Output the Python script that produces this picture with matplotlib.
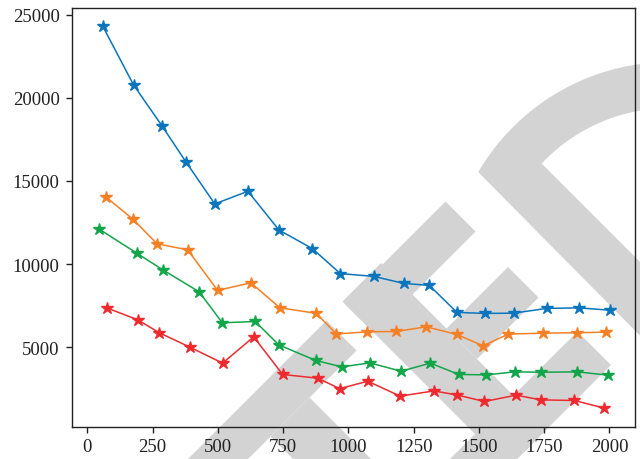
import matplotlib
matplotlib.use("Agg")
import matplotlib.pyplot as plt
import numpy as np
from matplotlib.patches import Polygon

plt.rcParams["font.family"] = ["Liberation Serif", "DejaVu Serif"]

# 数据
blue_x = [59, 177, 287, 377, 488, 615, 734, 862, 969, 1097, 1212, 1310, 1416, 1522, 1633, 1759, 1882, 2001]
blue_y = [24300, 20770, 18285, 16155, 13620, 14380, 12050, 10930, 9430, 9260, 8840, 8720, 7095, 7035, 7050, 7335, 7370, 7230]

orange_x = [70, 175, 267, 384, 499, 626, 738, 877, 954, 1073, 1184, 1298, 1416, 1516, 1612, 1746, 1874, 1986]
orange_y = [14050, 12690, 11220, 10860, 8420, 8875, 7370, 7040, 5795, 5930, 5950, 6230, 5770, 5085, 5790, 5850, 5870, 5910]

green_x = [45, 189, 289, 428, 517, 643, 733, 874, 975, 1082, 1202, 1314, 1423, 1528, 1637, 1736, 1877, 1996]
green_y = [12105, 10660, 9655, 8335, 6470, 6550, 5145, 4210, 3820, 4060, 3560, 4045, 3365, 3340, 3520, 3500, 3520, 3320]

red_x = [77, 193, 276, 393, 518, 637, 748, 882, 967, 1074, 1198, 1327, 1415, 1521, 1643, 1737, 1866, 1981]
red_y = [7350, 6650, 5865, 5005, 4045, 5625, 3365, 3140, 2510, 2960, 2060, 2375, 2135, 1740, 2120, 1835, 1800, 1335]

x_ticks = [0, 250, 500, 750, 1000, 1250, 1500, 1750, 2000]
y_ticks = [5000, 10000, 15000, 20000, 25000]

# 水印（像素坐标，u=x+y, w=x-y 下的矩形）
W, H = 640, 460
wm_rects = [
    (648, 708, -400, 5),
    (648, 708, 40, 243),
    (708, 1100, -167, -89),
    (645, 977, 40, 117),
    (776, 837, 117, 240),
    (910, 977, -60, 245),
]


def uw_poly(u0, u1, w0, w1):
    pts = [(u0, w0), (u0, w1), (u1, w1), (u1, w0)]
    return [((u + w) / 2, (u - w) / 2) for u, w in pts]


def arc_poly():
    cx, cy, ro, ri = 670, 285, 222, 176
    a_out0 = np.arctan2(173 - cy, 478 - cx)
    a_in0 = np.arctan2(163 - cy, 540 - cx)
    outer = [(cx + ro * np.cos(a), cy + ro * np.sin(a)) for a in np.linspace(a_out0, -np.pi / 2 + 0.2, 40)]
    inner = [(cx + ri * np.cos(a), cy + ri * np.sin(a)) for a in np.linspace(-np.pi / 2 + 0.2, a_in0, 40)]
    tail = [(540 + 300, 163 + 300), (478 + 300, 176 + 300)]
    return outer + inner + tail


fig = plt.figure(figsize=(6.4, 4.6), dpi=100)
ax = fig.add_axes([72 / W, 1 - 427.5 / H, (635 - 72) / W, (427.5 - 9) / H])
ax.patch.set_facecolor("none")

shapes = [uw_poly(*r) for r in wm_rects] + [arc_poly()]
for pts in shapes:
    fig_pts = [(x / W, 1 - y / H) for x, y in pts]
    fig.patches.append(Polygon(fig_pts, closed=True, transform=fig.transFigure,
                               facecolor="#d3d3d3", edgecolor="none", zorder=-1))

series = [(blue_x, blue_y, "#0a75bd"), (orange_x, orange_y, "#f58025"),
          (green_x, green_y, "#13a54a"), (red_x, red_y, "#ee2a2f")]
for xs, ys, c in series:
    ax.plot(xs, ys, color=c, lw=1.1, marker="*", ms=9, mec=c, mfc=c)

ax.set_xlim(-59, 2098)
ax.set_ylim(235, 25400)
ax.set_xticks(x_ticks)
ax.set_yticks(y_ticks)
ax.tick_params(direction="out", length=4, width=1, colors="#222222")
ax.tick_params(axis="x", pad=4)
ax.tick_params(axis="y", pad=5)
for lab in ax.get_xticklabels() + ax.get_yticklabels():
    lab.set_fontsize(13.5)
for s in ax.spines.values():
    s.set_color("#222222")
    s.set_linewidth(1.0)

fig.savefig("out.png", dpi=100)
